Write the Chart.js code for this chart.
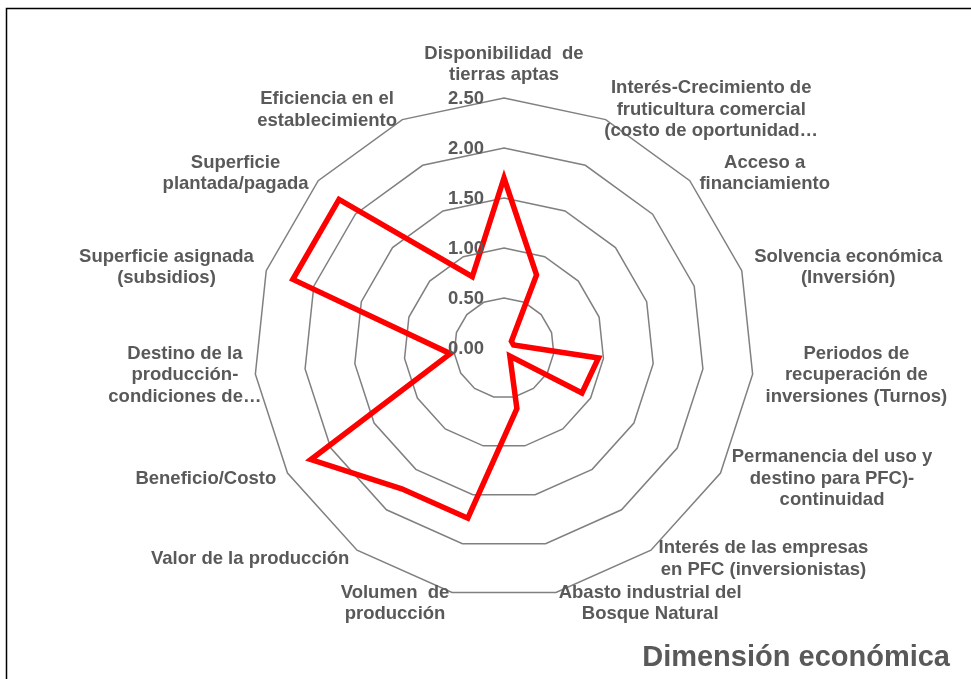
<!DOCTYPE html>
<html>
<head>
<meta charset="utf-8">
<title>Dimensión económica</title>
<script src="https://cdn.jsdelivr.net/npm/chart.js@4/dist/chart.umd.min.js"></script>
<style>
html,body{margin:0;padding:0;background:#fff;}
#wrap{position:relative;width:971px;height:679px;overflow:hidden;}
</style>
</head>
<body>
<div id="wrap"><canvas id="radarChart"></canvas></div>
<script>
/* =====================================================
   DATA
===================================================== */

const categories = [
    ["Disponibilidad  de", "tierras aptas"],
    ["Interés-Crecimiento de", "fruticultura comercial", "(costo de oportunidad…"],
    ["Acceso a", "financiamiento"],
    ["Solvencia económica", "(Inversión)"],
    ["Periodos de", "recuperación de", "inversiones (Turnos)"],
    ["Permanencia del uso y", "destino para PFC)-", "continuidad"],
    ["Interés de las empresas", "en PFC (inversionistas)"],
    ["Abasto industrial del", "Bosque Natural"],
    ["Volumen  de", "producción"],
    ["Valor de la producción"],
    ["Beneficio/Costo"],
    ["Destino de la", "producción-", "condiciones de…"],
    ["Superficie asignada", "(subsidios)"],
    ["Superficie", "plantada/pagada"],
    ["Eficiencia en el", "establecimiento"]
];

const values = [
    1.70, 0.80, 0.10, 0.10, 0.95,
    0.90, 0.10, 0.62, 1.74, 1.74,
    2.23, 0.54, 2.22, 2.22, 0.78
];

const tickValues = [0, 0.5, 1, 1.5, 2, 2.5];

const chartTitle = "Dimensión económica";


/* =========================
   STYLE
========================= */

const TEXT_GREY = "#595959";
const FONT_FAMILY = "'Liberation Sans', Arial, sans-serif";
const LINE_H = 21.7;


/* =========================
   FRAME + LABELS PLUGIN
========================= */

const frameAndLabels = {

    id:"frameAndLabels",

    beforeDraw(chart){

        const ctx = chart.ctx;

        ctx.save();
        ctx.fillStyle = "#ffffff";
        ctx.fillRect(0, 0, chart.width, chart.height);
        ctx.strokeStyle = "#000000";
        ctx.lineWidth = 1.5;
        ctx.strokeRect(6.5, 8.5, chart.width + 40, chart.height + 40);
        ctx.restore();

    },

    afterDatasetsDraw(chart){

        const ctx = chart.ctx;
        const scale = chart.scales.r;

        ctx.save();

        ctx.font = "bold 18.5px " + FONT_FAMILY;
        ctx.fillStyle = TEXT_GREY;

        // tick labels, left of the vertical axis
        ctx.textAlign = "right";
        ctx.textBaseline = "middle";

        tickValues.forEach(v => {
            const d = scale.getDistanceFromCenterForValue(v);
            ctx.fillText(v.toFixed(2), scale.xCenter - 20, scale.yCenter - d + 1);
        });

        // category labels round the outer ring
        ctx.textAlign = "center";

        categories.forEach((lines, i) => {

            const p = scale.getPointPosition(i, scale.drawingArea);
            const s = Math.cos(p.angle);
            const c = -Math.sin(p.angle);

            // cut-off lines (ending in …) overflow the label box
            const full = lines.filter(t => !t.endsWith("…"));
            const w = Math.max(...full.map(t => ctx.measureText(t).width));
            const h = lines.length * LINE_H;

            let cx, top;

            if(Math.abs(s) < 0.05){
                cx = p.x;
                top = c > 0 ? p.y - 12 - h : p.y + 12;
            }else{
                const gap = 13 * Math.abs(s);
                cx = s > 0 ? p.x + gap + w / 2 : p.x - gap - w / 2;
                top = p.y - 11 * c - h / 2;
            }

            lines.forEach((t, k) => {
                ctx.fillText(t, cx, top + LINE_H * (k + 0.5));
            });

        });

        // title, bottom right
        ctx.font = "bold 29px " + FONT_FAMILY;
        ctx.textAlign = "right";
        ctx.textBaseline = "alphabetic";
        ctx.fillText(chartTitle, 950, 666);

        ctx.restore();

    }

};


/* =========================
   RADAR
========================= */

const canvas = document.getElementById("radarChart");

new Chart(canvas,{

    type:"radar",

    data:{

        labels:categories,

        datasets:[{

            label:chartTitle,

            data:values,

            borderColor:"#ff0000",

            borderWidth:5.5,

            pointRadius:0,

            pointHoverRadius:0,

            fill:false,

            tension:0

        }]

    },

    options:{

        responsive:true,

        maintainAspectRatio:false,

        animation:false,

        layout:{
            padding:{ left:254, right:217, top:98, bottom:81 }
        },

        plugins:{

            legend:{ display:false },

            tooltip:{ enabled:false }

        },

        scales:{

            r:{

                min:0,

                max:2.5,

                ticks:{
                    stepSize:0.5,
                    display:false
                },

                grid:{
                    color:"#808080",
                    lineWidth:1.5
                },

                angleLines:{
                    display:false
                },

                pointLabels:{
                    display:false
                }

            }

        }

    },

    plugins:[frameAndLabels]

});
</script>
</body>
</html>
